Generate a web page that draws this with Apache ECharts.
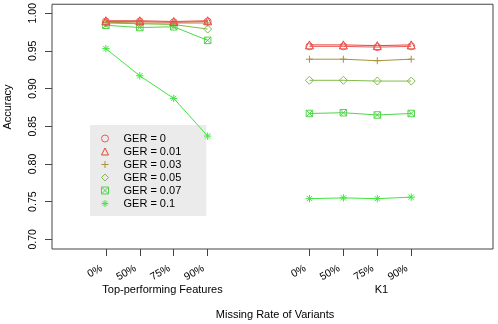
<!DOCTYPE html>
<html><head><meta charset="utf-8">
<script src="https://cdn.jsdelivr.net/npm/echarts@6/dist/echarts.min.js"></script>
<style>html,body{margin:0;padding:0;background:#fff}#c{width:498px;height:324px}</style>
</head><body><div id="c"></div>
<script>
const missingRates = ['0%', '50%', '75%', '90%'];
const groups = ['Top-performing Features', 'K1'];
const gerLabels = ['GER = 0', 'GER = 0.01', 'GER = 0.03', 'GER = 0.05', 'GER = 0.07', 'GER = 0.1'];
const yTicks = [0.70, 0.75, 0.80, 0.85, 0.90, 0.95, 1.00];

// values: first 4 = Top-performing Features, last 4 = K1
const ger0   = [0.989, 0.989, 0.988, 0.989, 0.956, 0.956, 0.955, 0.956];
const ger001 = [0.990, 0.990, 0.989, 0.990, 0.958, 0.958, 0.957, 0.958];
const ger003 = [0.988, 0.987, 0.987, 0.987, 0.939, 0.939, 0.937, 0.939];
const ger005 = [0.987, 0.986, 0.985, 0.979, 0.911, 0.911, 0.910, 0.910];
const ger007 = [0.984, 0.981, 0.982, 0.964, 0.867, 0.868, 0.865, 0.867];
const ger01  = [0.953, 0.917, 0.887, 0.837, 0.754, 0.755, 0.754, 0.756];

const allVals = [ger0, ger001, ger003, ger005, ger007, ger01];
const colors = ['#f05a5a', '#e04838', '#a8923c', '#80bc48', '#52d44a', '#3ee83e'];
const symbols = [
  'circle',
  'triangle',
  'path://M5,0L5,10M0,5L10,5',
  'diamond',
  'path://M0,0L10,0L10,10L0,10ZM0,0L10,10M10,0L0,10',
  'path://M5,0L5,10M0,5L10,5M1.5,1.5L8.5,8.5M8.5,1.5L1.5,8.5'
];
const symSizes = [7, 8, 7, 8, 6.5, 7.5];
const FONT = '"Liberation Sans", Arial, Helvetica, sans-serif';

const slot = (gi, i) => gi * (missingRates.length + 2) + i + 1;
const xTicks = [];
const xTickLabel = {};
groups.forEach((g, gi) => missingRates.forEach((r, i) => {
  xTicks.push(slot(gi, i));
  xTickLabel[slot(gi, i)] = r;
}));

const series = [];
allVals.forEach((vals, k) => {
  groups.forEach((g, gi) => {
    series.push({
      type: 'line',
      name: gerLabels[k],
      data: missingRates.map((r, i) => [slot(gi, i), vals[gi * missingRates.length + i]]),
      symbol: symbols[k],
      symbolSize: symSizes[k],
      showSymbol: true,
      lineStyle: { color: colors[k], width: 1 },
      itemStyle: { color: 'rgba(0,0,0,0)', borderColor: colors[k], borderWidth: 1 },
      emphasis: { disabled: true },
      animation: false,
      z: 10 - k
    });
  });
});

const chart = echarts.init(document.getElementById('c'), null, { renderer: 'canvas' });
chart.setOption({
  animation: false,
  backgroundColor: '#fff',
  grid: { left: 52, right: 5, top: 3, bottom: 75, show: true, borderColor: '#444', borderWidth: 1, backgroundColor: 'transparent' },
  xAxis: {
    type: 'value', min: -0.588, max: 12.41,
    splitLine: { show: false }, axisLine: { show: false, onZero: false },
    axisTick: { show: true, inside: false, length: 7, customValues: xTicks, lineStyle: { color: '#444' } },
    axisLabel: { customValues: xTicks, rotate: 30, margin: 16, padding: [0, 5, 0, 0],
      formatter: v => xTickLabel[Math.round(v)] || '',
      fontFamily: FONT, fontSize: 10.5, color: '#000' }
  },
  yAxis: {
    type: 'value', min: 0.6872, max: 1.0119,
    splitLine: { show: false }, axisLine: { show: false, onZero: false },
    axisTick: { show: true, inside: false, length: 7, customValues: yTicks, lineStyle: { color: '#444' } },
    axisLabel: { customValues: yTicks, rotate: 90, margin: 13, formatter: v => v.toFixed(2),
      fontFamily: FONT, fontSize: 10.5, color: '#000' }
  },
  legend: {
    orient: 'vertical', left: 90, top: 125,
    padding: [7, 25, 6, 11], itemGap: 0, itemWidth: 7, itemHeight: 7,
    backgroundColor: '#ebebeb',
    selectedMode: false,
    textStyle: { fontFamily: FONT, fontSize: 11, color: '#000', lineHeight: 13, padding: [0, 0, 0, 10] },
    data: gerLabels.map((n, k) => ({
      name: n, icon: symbols[k],
      itemStyle: { color: 'rgba(0,0,0,0)', borderColor: colors[k], borderWidth: 1 }
    }))
  },
  graphic: [
    { type: 'text', x: 8, y: 107, rotation: Math.PI / 2,
      style: { text: 'Accuracy', font: '11px ' + FONT, fill: '#000', align: 'center', verticalAlign: 'middle' } },
    { type: 'text', x: 162.5, y: 289.5,
      style: { text: groups[0], font: '11px ' + FONT, fill: '#000', align: 'center', verticalAlign: 'middle' } },
    { type: 'text', x: 381.5, y: 289.5,
      style: { text: groups[1], font: '11px ' + FONT, fill: '#000', align: 'center', verticalAlign: 'middle' } },
    { type: 'text', x: 275, y: 315,
      style: { text: 'Missing Rate of Variants', font: '11px ' + FONT, fill: '#000', align: 'center', verticalAlign: 'middle' } }
  ],
  series: series
});
</script>
</body></html>
